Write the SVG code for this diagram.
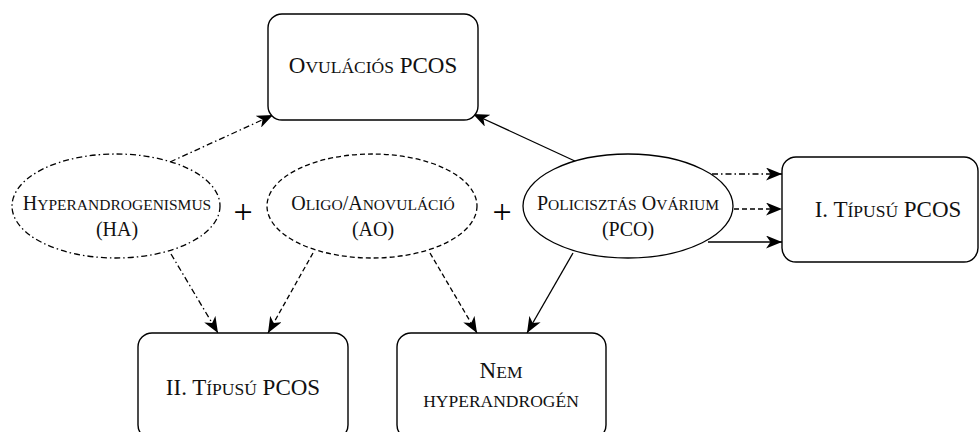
<svg xmlns="http://www.w3.org/2000/svg" width="980" height="432" viewBox="0 0 980 432">
<style>
.box{fill:#fff;stroke:#000;stroke-width:1.4}
.ell{fill:#fff;stroke:#000;stroke-width:1.3}
.dash{stroke-dasharray:5 3}
.dd{stroke-dasharray:6 3 1.5 3}
.t{font-family:"Liberation Serif","Times New Roman",serif;fill:#111;text-anchor:middle}
.b{font-size:23px}
.b .s{font-size:17.5px;text-transform:uppercase}
.o{font-size:20px}
.o .s{font-size:15.5px;text-transform:uppercase}
.plus{font-family:"Liberation Serif",serif;font-size:34px;fill:#000;text-anchor:middle}
.e{fill:none;stroke:#000;stroke-width:1.3}
</style>
<defs>
<marker id="a" viewBox="0 0 16 13" refX="16" refY="6.5" markerWidth="16" markerHeight="13" markerUnits="userSpaceOnUse" orient="auto">
<path d="M0,0 L16,6.5 L0,13 L4.5,6.5 z" fill="#000"/>
</marker>
</defs>
<g id="connectors">
<path class="e dd" d="M170,162 L273,115" marker-end="url(#a)"/>
<path class="e" d="M577,162 L473,114" marker-end="url(#a)"/>
<path class="e dd" d="M712,174 L782,174" marker-end="url(#a)"/>
<path class="e dash" d="M734,209 L782,209" marker-end="url(#a)"/>
<path class="e" d="M708,242 L782,242" marker-end="url(#a)"/>
<path class="e dd" d="M171,254 L218,333" marker-end="url(#a)"/>
<path class="e dash" d="M313,253 L268,333" marker-end="url(#a)"/>
<path class="e dash" d="M430,253 L477,333" marker-end="url(#a)"/>
<path class="e" d="M573,253 L527,333" marker-end="url(#a)"/>
</g>
<g id="ovulacios">
<rect class="box" x="268" y="14" width="210" height="106" rx="14"/>
<text class="t b" x="373" y="73">O<tspan class="s">vulációs</tspan> PCOS</text>
</g>
<g id="tipus1">
<rect class="box" x="782" y="157" width="196" height="105" rx="14"/>
<text class="t b" x="888" y="217">I. T<tspan class="s">ípusú</tspan> PCOS</text>
</g>
<g id="tipus2">
<rect class="box" x="138" y="333" width="210" height="106" rx="14"/>
<text class="t b" x="243" y="395">II. T<tspan class="s">ípusú</tspan> PCOS</text>
</g>
<g id="nemhyper">
<rect class="box" x="397" y="333" width="209" height="106" rx="14"/>
<text class="t b" x="501" y="378">N<tspan class="s">em</tspan></text>
<text class="t b" x="501" y="407"><tspan class="s">hyperandrogén</tspan></text>
</g>
<g id="ha">
<ellipse class="ell dd" cx="116" cy="206" rx="104" ry="52"/>
<text class="t o" x="117" y="210">H<tspan class="s">yperandrogenismus</tspan></text>
<text class="t o" x="117" y="236">(HA)</text>
</g>
<g id="ao">
<ellipse class="ell dash" cx="372" cy="206" rx="105" ry="52"/>
<text class="t o" x="373" y="210">O<tspan class="s">ligo</tspan>/A<tspan class="s">novuláció</tspan></text>
<text class="t o" x="373" y="236">(AO)</text>
</g>
<g id="pco">
<ellipse class="ell" cx="628" cy="206" rx="105" ry="52"/>
<text class="t o" x="628" y="210">P<tspan class="s">olicisztás</tspan> O<tspan class="s">várium</tspan></text>
<text class="t o" x="628" y="236">(PCO)</text>
</g>
<g id="plus1"><text class="plus" x="243" y="223">+</text></g>
<g id="plus2"><text class="plus" x="502" y="223">+</text></g>
</svg>
